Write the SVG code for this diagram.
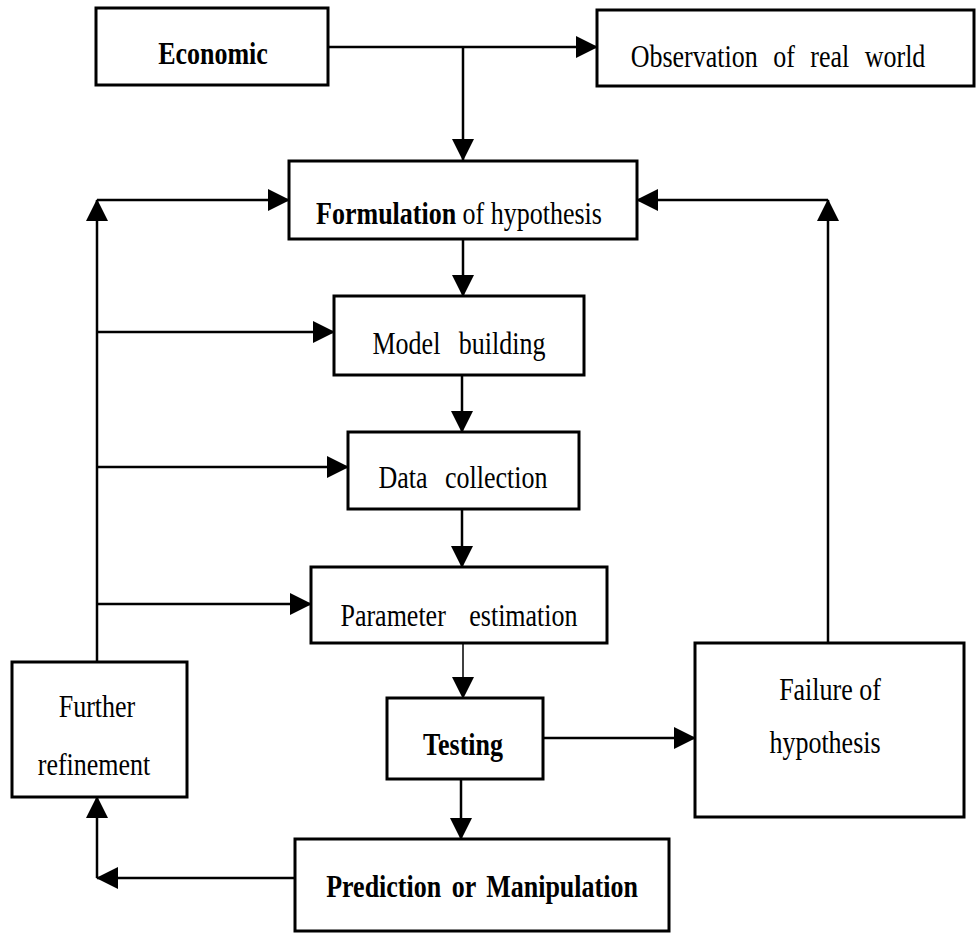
<svg xmlns="http://www.w3.org/2000/svg" width="976" height="933" viewBox="0 0 976 933">
<style>
.box{fill:#fff;stroke:#000;stroke-width:3}
.t{font-family:"Liberation Serif","Times New Roman",serif;font-size:26px;fill:#000;text-anchor:middle}
.b{font-weight:bold}
.c{fill:none;stroke:#000;stroke-width:2.5}
.thin{stroke-width:1.5}
</style>
<defs>
<marker id="ah" markerUnits="userSpaceOnUse" markerWidth="22" markerHeight="22" refX="21" refY="11" orient="auto" viewBox="0 0 22 22">
<path d="M0,0 L22,11 L0,22 Z" fill="#000"/>
</marker>
</defs>
<rect width="976" height="933" fill="#fff"/>
<g id="connectors">
<path class="c" d="M328,47 H597" marker-end="url(#ah)"/>
<path class="c" d="M463,47 V160" marker-end="url(#ah)"/>
<path class="c" d="M463,240 V296" marker-end="url(#ah)"/>
<path class="c" d="M462,375 V432" marker-end="url(#ah)"/>
<path class="c" d="M462,509 V567" marker-end="url(#ah)"/>
<path class="c thin" d="M463,643 V698" marker-end="url(#ah)"/>
<path class="c" d="M461,779 V839" marker-end="url(#ah)"/>
<path class="c" d="M543,738 H695" marker-end="url(#ah)"/>
<path class="c" d="M97,662 V200" marker-end="url(#ah)"/>
<path class="c" d="M97,200 H289" marker-end="url(#ah)"/>
<path class="c" d="M97,332 H334" marker-end="url(#ah)"/>
<path class="c" d="M97,467 H348" marker-end="url(#ah)"/>
<path class="c" d="M97,604 H311" marker-end="url(#ah)"/>
<path class="c" d="M828,643 V200" marker-end="url(#ah)"/>
<path class="c" d="M828,200 H637" marker-end="url(#ah)"/>
<path class="c" d="M295,878 H97" marker-end="url(#ah)"/>
<path class="c" d="M97,878 V797" marker-end="url(#ah)"/>
</g>
<g id="economic">
<rect class="box" x="96" y="8" width="232" height="77"/>
<text class="t b" transform="translate(213,64) scale(1,1.2)" font-size="27.5">Economic</text>
</g>
<g id="observation">
<rect class="box" x="597" y="10" width="377" height="76"/>
<text class="t" transform="translate(778,67) scale(1,1.2)" font-size="25" word-spacing="9">Observation of real world</text>
</g>
<g id="formulation">
<rect class="box" x="289" y="161" width="348" height="78"/>
<text class="t" transform="translate(459,224) scale(1,1.2)" font-size="27"><tspan class="b">Formulation</tspan> of hypothesis</text>
</g>
<g id="model">
<rect class="box" x="334" y="296" width="250" height="79"/>
<text class="t" transform="translate(459,354) scale(1,1.2)" word-spacing="12">Model building</text>
</g>
<g id="data">
<rect class="box" x="348" y="432" width="231" height="77"/>
<text class="t" transform="translate(463,488) scale(1,1.2)" word-spacing="11">Data collection</text>
</g>
<g id="parameter">
<rect class="box" x="311" y="567" width="296" height="76"/>
<text class="t" transform="translate(459,626) scale(1,1.2)" word-spacing="17">Parameter estimation</text>
</g>
<g id="testing">
<rect class="box" x="387" y="698" width="156" height="81"/>
<text class="t b" transform="translate(463,755) scale(1,1.2)" font-size="27">Testing</text>
</g>
<g id="failure">
<rect class="box" x="695" y="643" width="269" height="174"/>
<text class="t" transform="translate(830,700) scale(1,1.2)" font-size="29.5">Failure of</text>
<text class="t" transform="translate(825,753) scale(1,1.2)" font-size="28.5">hypothesis</text>
</g>
<g id="refinement">
<rect class="box" x="12" y="662" width="175" height="135"/>
<text class="t" transform="translate(97,717) scale(1,1.2)" font-size="27.5">Further</text>
<text class="t" transform="translate(94,775) scale(1,1.2)" font-size="28">refinement</text>
</g>
<g id="prediction">
<rect class="box" x="295" y="839" width="374" height="92"/>
<text class="t b" transform="translate(482,897) scale(1,1.2)" word-spacing="4">Prediction or Manipulation</text>
</g>
</svg>
